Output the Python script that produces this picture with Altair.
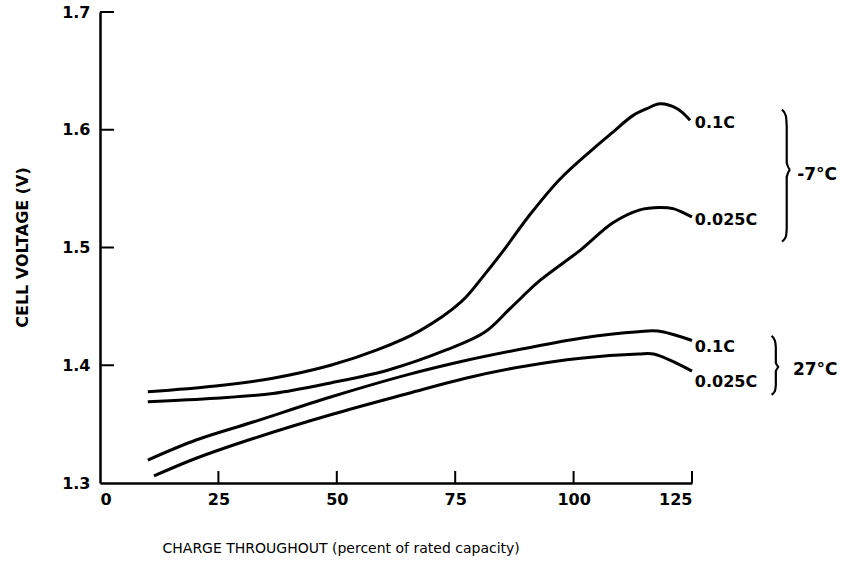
import altair as alt
import pandas as pd

# ---- data ----
x_m7_01 = [10.1, 24.4, 36.5, 48.7, 58.5, 67.4, 76.3, 81.2, 85.3, 90.8, 97.1, 103.9, 108.3, 112.5, 115.5, 118.2, 121.8, 124.6]
v_m7_01 = [1.3775, 1.3824, 1.389, 1.400, 1.413, 1.429, 1.454, 1.477, 1.498, 1.528, 1.558, 1.583, 1.598, 1.612, 1.618, 1.622, 1.618, 1.608]

x_m7_0025 = [10.1, 24.4, 36.5, 48.7, 60.9, 73.1, 81.2, 86.8, 92.9, 101.5, 108.3, 114.0, 118.2, 121.0, 125.0]
v_m7_0025 = [1.369, 1.372, 1.376, 1.385, 1.396, 1.413, 1.428, 1.449, 1.472, 1.498, 1.521, 1.532, 1.534, 1.533, 1.526]

x_27_01 = [10.1, 20.3, 32.5, 48.7, 65.0, 77.2, 89.3, 101.5, 113.7, 117.8, 125.0]
v_27_01 = [1.3195, 1.3365, 1.352, 1.373, 1.392, 1.404, 1.414, 1.423, 1.4285, 1.429, 1.421]

x_27_0025 = [11.4, 20.3, 32.5, 48.7, 65.0, 77.2, 89.3, 101.5, 113.7, 116.9, 125.0]
v_27_0025 = [1.306, 1.321, 1.338, 1.358, 1.376, 1.389, 1.399, 1.406, 1.4095, 1.4095, 1.395]

x_ticks = [0, 25, 50, 75, 100, 125]
y_ticks = [1.3, 1.4, 1.5, 1.6, 1.7]

rate_labels = ["0.1C", "0.025C", "0.1C", "0.025C"]
rate_label_x = [125.6, 125.6, 125.6, 125.6]
rate_label_y = [1.6057, 1.5234, 1.4155, 1.3858]

temp_labels = ["-7°C", "27°C"]
temp_label_x = [147.2, 146.3]
temp_label_y = [1.5616, 1.396]

# brace outlines (data space)
brace_m7_x = [144.0, 144.8, 145.0, 145.0, 145.8, 145.0, 145.0, 144.8, 144.0]
brace_m7_y = [1.617, 1.612, 1.603, 1.572, 1.566, 1.560, 1.516, 1.509, 1.505]
brace_27_x = [141.8, 142.5, 142.7, 142.7, 143.4, 142.7, 142.7, 142.5, 141.8]
brace_27_y = [1.425, 1.421, 1.415, 1.402, 1.3985, 1.395, 1.383, 1.378, 1.375]

# ---- tables ----
frames = []
for name, xs, vs in [("m7_01", x_m7_01, v_m7_01), ("m7_0025", x_m7_0025, v_m7_0025),
                     ("27_01", x_27_01, v_27_01), ("27_0025", x_27_0025, v_27_0025)]:
    frames.append(pd.DataFrame({"x": xs, "v": vs, "series": name}))
curves = pd.concat(frames, ignore_index=True)

braces = pd.concat([
    pd.DataFrame({"x": brace_m7_x, "v": brace_m7_y, "b": "m7", "o": range(len(brace_m7_x))}),
    pd.DataFrame({"x": brace_27_x, "v": brace_27_y, "b": "27", "o": range(len(brace_27_x))}),
], ignore_index=True)

rate_df = pd.DataFrame({"x": rate_label_x, "v": rate_label_y, "t": rate_labels})
temp_df = pd.DataFrame({"x": temp_label_x, "v": temp_label_y, "t": temp_labels})
xt_df = pd.DataFrame({"x": x_ticks[1:]})
yt_df = pd.DataFrame({"v": y_ticks[1:]})

W, H = 592, 471
FONT = "DejaVu Sans"

xscale = alt.Scale(domain=[0, 125], nice=False, zero=False)
yscale = alt.Scale(domain=[1.3, 1.7], nice=False, zero=False)

xaxis = alt.Axis(values=x_ticks, format="d", tickSize=0, grid=False,
                 domainColor="black", domainWidth=2.5,
                 labelFont=FONT, labelFontWeight="bold", labelFontSize=16, labelColor="black",
                 labelPadding=8,
                 title="CHARGE THROUGHOUT (percent of rated capacity)",
                 titleFont=FONT, titleFontWeight="normal", titleFontSize=14, titleColor="black",
                 titleX=62, titleY=65, titleAlign="left", titleBaseline="middle")
yaxis = alt.Axis(values=y_ticks, format=".1f", tickSize=0, grid=False,
                 domainColor="black", domainWidth=2.5,
                 labelFont=FONT, labelFontWeight="bold", labelFontSize=16, labelColor="black",
                 labelPadding=10,
                 title="CELL VOLTAGE (V)",
                 titleFont=FONT, titleFontWeight="bold", titleFontSize=16, titleColor="black",
                 titleX=-78, titleY=235, titleAngle=-90, titleAlign="center", titleBaseline="middle")

lines = alt.Chart(curves).mark_line(color="black", strokeWidth=3, interpolate="catmull-rom").encode(
    x=alt.X("x:Q", scale=xscale, axis=xaxis),
    y=alt.Y("v:Q", scale=yscale, axis=yaxis),
    detail="series:N",
)

xticks = alt.Chart(xt_df).mark_rule(color="black", strokeWidth=2).encode(
    x=alt.X("x:Q", scale=xscale),
    y=alt.value(H),
    y2=alt.value(H - 12),
)
yticks = alt.Chart(yt_df).mark_rule(color="black", strokeWidth=2).encode(
    y=alt.Y("v:Q", scale=yscale),
    x=alt.value(0),
    x2=alt.value(14),
)

brace_marks = alt.Chart(braces).mark_line(color="black", strokeWidth=2.2, interpolate="monotone").encode(
    x=alt.X("x:Q", scale=xscale),
    y=alt.Y("v:Q", scale=yscale),
    detail="b:N",
    order="o:Q",
)

rate_text = alt.Chart(rate_df).mark_text(align="left", baseline="middle", font=FONT,
                                          fontWeight="bold", fontSize=16, color="black").encode(
    x=alt.X("x:Q", scale=xscale), y=alt.Y("v:Q", scale=yscale), text="t:N")
temp_text = alt.Chart(temp_df).mark_text(align="left", baseline="middle", font=FONT,
                                          fontWeight="bold", fontSize=17, color="black").encode(
    x=alt.X("x:Q", scale=xscale), y=alt.Y("v:Q", scale=yscale), text="t:N")

chart = alt.layer(lines, xticks, yticks, brace_marks, rate_text, temp_text).properties(
    width=W, height=H,
    autosize=alt.AutoSizeParams(type="none"),
    padding={"left": 100, "top": 12, "right": 154, "bottom": 92},
    background="white",
).configure_view(stroke=None)

chart.save("out.html", embed_options={"renderer": "svg", "actions": False})
